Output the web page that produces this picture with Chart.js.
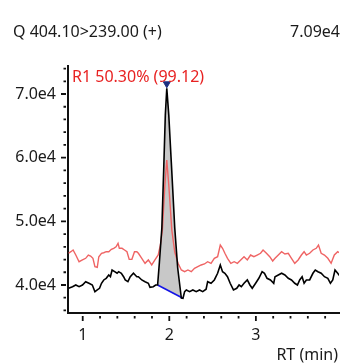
<!DOCTYPE html>
<html>
<head>
<meta charset="utf-8">
<script src="https://cdn.jsdelivr.net/npm/chart.js@4.4.1/dist/chart.umd.min.js"></script>
<style>
  html, body { margin: 0; padding: 0; background: #fff; }
  #wrap { width: 344px; height: 363px; }
</style>
</head>
<body>
<div id="wrap"><canvas id="chrom"></canvas></div>
<script>
// retention time (min) and intensity
const blackRT = [0.837, 0.882, 0.920, 0.958, 0.997, 1.034, 1.072, 1.111, 1.141, 1.168, 1.194, 1.217, 1.243, 1.271, 1.301, 1.320, 1.339, 1.369, 1.397, 1.415, 1.446, 1.472, 1.491, 1.522, 1.549, 1.586, 1.625, 1.643, 1.682, 1.720, 1.758, 1.777, 1.815, 1.842, 1.865, 1.886, 1.914, 1.937, 1.954, 1.971, 1.994, 2.023, 2.063, 2.097, 2.139, 2.158, 2.177, 2.197, 2.234, 2.272, 2.311, 2.349, 2.386, 2.425, 2.443, 2.482, 2.520, 2.558, 2.589, 2.615, 2.642, 2.672, 2.703, 2.741, 2.779, 2.806, 2.832, 2.863, 2.901, 2.931, 2.958, 2.997, 3.034, 3.072, 3.099, 3.129, 3.168, 3.206, 3.221, 3.259, 3.297, 3.335, 3.374, 3.411, 3.449, 3.480, 3.506, 3.534, 3.557, 3.583, 3.621, 3.659, 3.686, 3.717, 3.754, 3.792, 3.831, 3.861, 3.888, 3.914, 3.945, 3.975];
const blackInt = [39500, 39730, 40000, 39730, 40000, 40520, 40270, 40000, 38950, 39220, 39480, 40270, 40790, 41050, 41570, 41300, 42360, 42090, 41840, 42090, 41840, 41300, 40790, 40520, 41300, 41840, 41300, 41300, 40790, 40520, 40270, 39640, 39730, 40000, 40000, 43610, 48950, 58840, 66690, 70900, 66690, 59310, 48950, 42670, 37960, 37910, 38950, 39220, 38950, 39220, 38950, 39220, 38950, 39330, 40520, 40270, 40790, 41840, 43140, 42090, 41840, 41300, 40270, 39220, 39480, 40000, 39730, 40270, 40790, 40000, 39480, 40270, 41050, 42090, 41840, 41050, 40790, 40270, 41300, 41570, 41840, 41570, 41050, 40790, 40270, 40000, 40790, 41300, 40270, 40790, 40790, 41840, 42360, 42090, 41840, 41300, 41050, 40270, 40790, 42360, 41840, 41300];

const redRT = [0.837, 0.863, 0.889, 0.920, 0.958, 0.997, 1.034, 1.065, 1.091, 1.118, 1.141, 1.168, 1.186, 1.217, 1.243, 1.271, 1.301, 1.331, 1.358, 1.385, 1.408, 1.423, 1.454, 1.483, 1.511, 1.537, 1.568, 1.598, 1.625, 1.643, 1.682, 1.720, 1.758, 1.797, 1.834, 1.872, 1.897, 1.920, 1.949, 1.971, 1.994, 2.029, 2.063, 2.101, 2.139, 2.177, 2.215, 2.254, 2.291, 2.329, 2.368, 2.406, 2.443, 2.482, 2.520, 2.558, 2.589, 2.615, 2.642, 2.672, 2.711, 2.749, 2.786, 2.825, 2.863, 2.901, 2.939, 2.977, 3.015, 3.054, 3.083, 3.122, 3.160, 3.194, 3.221, 3.259, 3.297, 3.335, 3.374, 3.411, 3.449, 3.488, 3.526, 3.557, 3.583, 3.621, 3.659, 3.697, 3.723, 3.754, 3.792, 3.831, 3.869, 3.906, 3.945, 3.975];
const redInt = [44980, 45230, 45500, 44710, 43660, 43930, 44190, 44710, 44550, 44190, 42870, 42780, 44440, 44980, 45070, 45230, 45230, 45600, 45760, 46010, 46550, 45760, 45760, 45500, 45230, 44030, 44030, 45230, 45230, 44980, 44190, 43410, 43930, 43140, 43930, 44710, 46280, 48640, 55700, 59630, 55700, 48640, 45180, 43410, 42360, 42090, 42360, 42090, 42620, 42870, 43140, 43300, 43660, 43410, 44190, 44440, 46280, 45760, 44980, 44190, 43410, 43660, 43410, 43930, 44440, 43930, 44710, 44440, 44710, 44980, 45500, 44980, 44440, 43770, 44190, 44710, 45230, 44870, 44980, 44190, 43410, 43930, 44710, 45230, 44710, 44980, 45500, 45760, 46280, 44980, 44710, 44190, 43410, 44710, 45230, 44980];

// integration baseline (start, end) and apex marker
const baseRT = [1.865, 2.158];
const baseInt = [40000, 37910];
const apexRT = 1.971;
const apexInt = 71600;

const xTicks = [1, 2, 3];
const yTicks = [40000, 50000, 60000, 70000];

const toXY = (xs, ys) => xs.map((x, i) => ({ x: x, y: ys[i] }));

const FONT = 'Noto Sans';
const FSIZE = 16;

// minor/major tick marks and the text labels around the plot
const decor = {
  id: 'decor',
  afterDraw(chart) {
    const ctx = chart.ctx;
    const xs = chart.scales.x, ys = chart.scales.y;
    const area = chart.chartArea;
    ctx.save();
    ctx.strokeStyle = '#111';
    ctx.lineWidth = 1.8;
    ctx.beginPath();
    for (let i = 5; i <= 19; i++) {
      const v = i / 5;
      const px = xs.getPixelForValue(v);
      const len = (i % 5 === 0) ? 5 : 2.5;
      ctx.moveTo(px, area.bottom + 3);
      ctx.lineTo(px, area.bottom + 3 + len);
    }
    for (let v = 36000; v <= 74000; v += 2000) {
      const py = ys.getPixelForValue(v);
      const len = (v % 10000 === 0) ? 5 : 2.5;
      ctx.moveTo(area.left - 2, py);
      ctx.lineTo(area.left - 2 - len, py);
    }
    ctx.stroke();

    ctx.font = FSIZE + 'px "' + FONT + '"';
    ctx.textBaseline = 'alphabetic';
    ctx.fillStyle = '#1a1a1a';
    ctx.textAlign = 'left';
    ctx.fillText('Q 404.10>239.00 (+)', 13, 37);
    ctx.textAlign = 'right';
    ctx.fillText('7.09e4', 340, 37);
    ctx.fillText('RT (min)', 338, 360);
    ctx.textAlign = 'left';
    ctx.fillStyle = '#e82222';
    ctx.fillText('R1 50.30% (99.12)', 72, 82);
    ctx.restore();
  }
};

new Chart(document.getElementById('chrom'), {
  type: 'line',
  data: {
    datasets: [{
      label: 'Trace',
      data: toXY(blackRT, blackInt),
      borderColor: '#000000',
      borderWidth: 1.6,
      backgroundColor: '#c8c8c8',
      fill: 2,
      pointRadius: 0,
      tension: 0,
      order: 1
    }, {
      label: 'Reference',
      data: toXY(redRT, redInt),
      borderColor: '#ef6464',
      borderWidth: 1.4,
      pointRadius: 0,
      tension: 0,
      fill: false,
      order: 3
    }, {
      label: 'Baseline',
      data: toXY(baseRT, baseInt),
      borderColor: '#1414e6',
      borderWidth: 1.6,
      pointRadius: 0,
      tension: 0,
      fill: false,
      order: 2
    }, {
      label: 'Apex',
      type: 'scatter',
      data: [{ x: apexRT, y: apexInt }],
      pointStyle: 'triangle',
      rotation: 180,
      pointRadius: 4,
      backgroundColor: '#1c2f80',
      borderColor: '#1c2f80',
      borderWidth: 1,
      order: 0
    }]
  },
  options: {
    responsive: true,
    maintainAspectRatio: false,
    animation: false,
    layout: { padding: { top: 66, right: 2, left: 0, bottom: 0 } },
    plugins: {
      legend: { display: false },
      tooltip: { enabled: false },
      filler: { drawTime: 'beforeDatasetsDraw' }
    },
    scales: {
      x: {
        type: 'linear',
        min: 0.83,
        max: 3.96,
        grid: { display: false, drawTicks: false },
        border: { display: true, color: '#111', width: 2 },
        afterBuildTicks: s => { s.ticks = xTicks.map(v => ({ value: v })); },
        afterFit: s => { s.height = 50; },
        ticks: {
          padding: 13,
          color: '#1a1a1a',
          font: { family: FONT, size: FSIZE },
          maxRotation: 0,
          callback: v => String(v)
        }
      },
      y: {
        type: 'linear',
        min: 35600,
        max: 74400,
        grid: { display: false, drawTicks: false },
        border: { display: true, color: '#111', width: 2 },
        afterBuildTicks: s => { s.ticks = yTicks.map(v => ({ value: v })); },
        afterFit: s => { s.width = 68; },
        ticks: {
          padding: 12,
          color: '#1a1a1a',
          font: { family: FONT, size: FSIZE },
          callback: v => (v / 10000).toFixed(1) + 'e4'
        }
      }
    }
  },
  plugins: [decor]
});
</script>
</body>
</html>
